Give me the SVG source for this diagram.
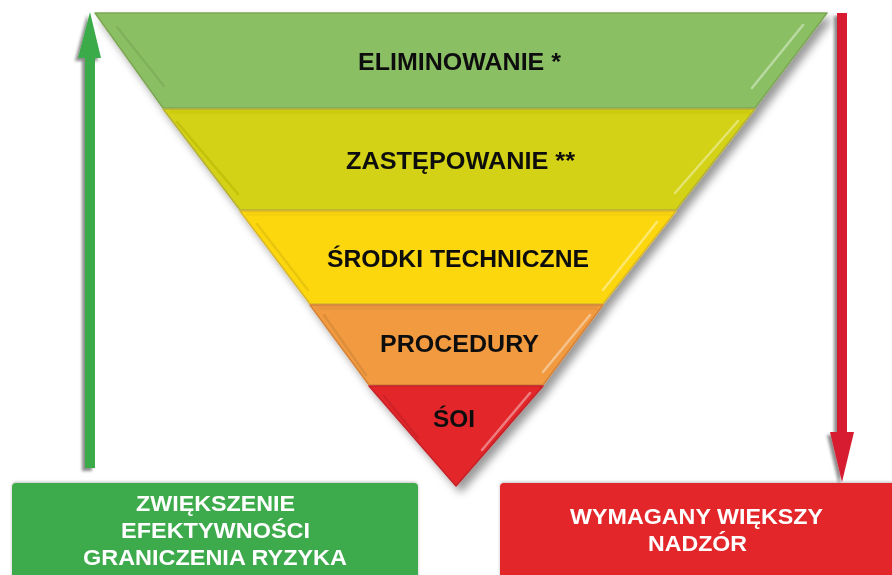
<svg xmlns="http://www.w3.org/2000/svg" width="892" height="575" viewBox="0 0 892 575">
  <defs>
    <filter id="triShadow" x="-10%" y="-10%" width="125%" height="125%">
      <feDropShadow dx="5" dy="6" stdDeviation="4" flood-color="#000" flood-opacity="0.4"/>
    </filter>
    <filter id="arrowShadow" x="-100%" y="-5%" width="300%" height="115%">
      <feDropShadow dx="-3" dy="3" stdDeviation="1.5" flood-color="#000" flood-opacity="0.45"/>
    </filter>
    <filter id="boxShadow" x="-5%" y="-10%" width="110%" height="130%">
      <feDropShadow dx="0" dy="-1" stdDeviation="1.5" flood-color="#000" flood-opacity="0.25"/>
    </filter>
    <style>
      .lbl { font-family: "Liberation Sans", Arial, sans-serif; font-weight: bold; font-size: 24.5px; fill: #111; text-anchor: middle; }
      .box-lbl { font-family: "Liberation Sans", Arial, sans-serif; font-weight: bold; font-size: 22px; fill: #fff; text-anchor: middle; }
      .bevel-dark { fill: none; stroke: #000; stroke-opacity: 0.08; stroke-width: 2.5; stroke-linecap: round; }
      .bevel-light { fill: none; stroke: #fff; stroke-opacity: 0.4; stroke-width: 2.5; stroke-linecap: round; }
      .band { stroke-width: 1.5; stroke-linejoin: round; }
    </style>
  </defs>

  <rect x="0" y="0" width="892" height="575" fill="#ffffff"/>

  <g id="pyramid" filter="url(#triShadow)">
    <g id="band-eliminowanie">
      <polygon class="band" points="95,13 827,13 755,108 163,108" fill="#8AC063" stroke="#7DA655"/>
      <line class="bevel-dark" x1="117" y1="27" x2="164" y2="86"/>
      <line class="bevel-light" x1="803" y1="25" x2="752" y2="88"/>
      <text class="lbl" x="459.5" y="70" textLength="203" lengthAdjust="spacingAndGlyphs">ELIMINOWANIE *</text>
    </g>
    <g id="band-zastepowanie">
      <polygon class="band" points="163,109 755,109 676,210 240,210" fill="#D3D212" stroke="#B5B03A"/>
      <rect x="170" y="110" width="580" height="4" fill="#000" fill-opacity="0.03"/>
      <line class="bevel-dark" x1="177" y1="122" x2="238" y2="194"/>
      <line class="bevel-light" x1="738" y1="121" x2="675" y2="193"/>
      <text class="lbl" x="460.5" y="169" textLength="229" lengthAdjust="spacingAndGlyphs">ZASTĘPOWANIE **</text>
    </g>
    <g id="band-srodki">
      <polygon class="band" points="240,211 676,211 603,304 310,304" fill="#FCD70C" stroke="#D9B62A"/>
      <rect x="246" y="212" width="425" height="4" fill="#000" fill-opacity="0.03"/>
      <line class="bevel-dark" x1="257" y1="224" x2="308" y2="290"/>
      <line class="bevel-light" x1="657" y1="222" x2="603" y2="290"/>
      <text class="lbl" x="458" y="267" textLength="262" lengthAdjust="spacingAndGlyphs">ŚRODKI TECHNICZNE</text>
    </g>
    <g id="band-procedury">
      <polygon class="band" points="310,305 603,305 543,385 369,385" fill="#F19A3F" stroke="#D5833A"/>
      <rect x="316" y="306" width="282" height="4" fill="#000" fill-opacity="0.03"/>
      <line class="bevel-dark" x1="324" y1="315" x2="366" y2="375"/>
      <line class="bevel-light" x1="590" y1="315" x2="543" y2="372"/>
      <text class="lbl" x="459.5" y="352" textLength="159" lengthAdjust="spacingAndGlyphs">PROCEDURY</text>
    </g>
    <g id="band-soi">
      <polygon class="band" points="369,386 543,386 456,486" fill="#E2262B" stroke="#C52228"/>
      <line class="bevel-dark" x1="384" y1="396" x2="418" y2="438"/>
      <line class="bevel-light" x1="530" y1="393" x2="482" y2="450"/>
      <text class="lbl" x="454" y="427" textLength="42" lengthAdjust="spacingAndGlyphs">ŚOI</text>
    </g>
  </g>

  <g id="connectors">
    <g id="arrow-up" filter="url(#arrowShadow)" fill="#3AAA4A">
      <rect x="85" y="56" width="10" height="412"/>
      <polygon points="90,12 101,58 78,58"/>
    </g>
    <g id="arrow-down" filter="url(#arrowShadow)" fill="#D71F31">
      <rect x="837" y="13" width="10" height="421"/>
      <polygon points="830,432 854,432 842,482"/>
    </g>
  </g>

  <g id="box-green" filter="url(#boxShadow)">
    <rect x="12" y="483" width="406" height="100" rx="4" fill="#3DAA4C"/>
    <text class="box-lbl" x="215.5" y="511" textLength="159" lengthAdjust="spacingAndGlyphs">ZWIĘKSZENIE</text>
    <text class="box-lbl" x="215.5" y="538" textLength="189" lengthAdjust="spacingAndGlyphs">EFEKTYWNOŚCI</text>
    <text class="box-lbl" x="215" y="565" textLength="264" lengthAdjust="spacingAndGlyphs">GRANICZENIA RYZYKA</text>
  </g>

  <g id="box-red" filter="url(#boxShadow)">
    <rect x="500" y="483" width="400" height="100" rx="4" fill="#E2262B"/>
    <text class="box-lbl" x="696.5" y="524" textLength="253" lengthAdjust="spacingAndGlyphs">WYMAGANY WIĘKSZY</text>
    <text class="box-lbl" x="697.5" y="551" textLength="99" lengthAdjust="spacingAndGlyphs">NADZÓR</text>
  </g>
</svg>
